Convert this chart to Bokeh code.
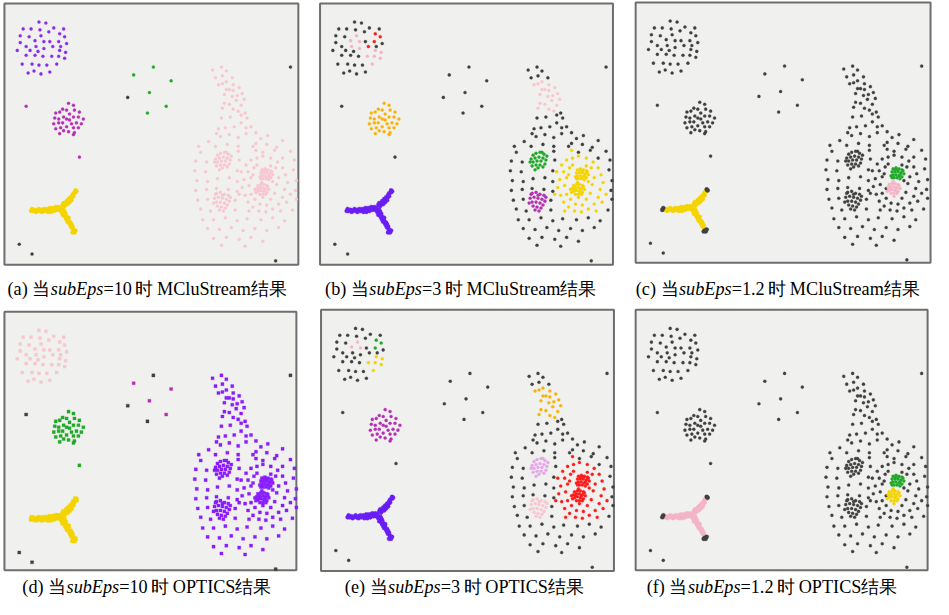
from bokeh.plotting import figure
from bokeh.models import Range1d, ColumnDataSource
from bokeh.core.properties import value
from bokeh.embed import file_html
from bokeh.resources import INLINE

# ---------------- data (local pixel coords inside a panel, origin = panel top-left) -------------
BLOB_A0 = [(35,19),(42,20),(19,26),(27,26),(36,27),(50,25),(60,26),(16,33),(25,34),(45,29),
           (16,40),(46,39),(63,41),(22,44),(57,44),(13,48),(26,48),(34,49),(22,53),(31,53),
           (39,54),(18,62),(28,62),(35,63),(43,63),(24,71),(30,69),(37,72),(46,70)]
BLOB_A1 = [(37,33),(31,38),(40,39)]
BLOB_A2 = [(56,31),(61,34),(55,39)]
BLOB_A3 = [(56,48),(62,50),(48,54),(55,54),(61,56),(53,62)]
BLOB_A4 = [(49,44)]
BLOB_A5 = [(32,44),(40,46)]
BLOB_B = [(65,102),(70,104),(59,108),(63,109),(71,109),(76,111),(52,112),(56,111),(66,113),
          (60,116),(70,116),(75,116),(80,118),(51,117),(55,118),(63,118),(66,119),(55,122),
          (59,122),(68,123),(73,122),(78,123),(50,123),(57,127),(63,126),(70,127),(75,127),
          (60,130),(65,131),(71,132),(56,133),(70,134),(52,128)]
SPARSE = [(151,65),(131,73),(169,79),(147,91),(125,96),(164,105),(145,112)]
NOISE = [(290,65),(15,246),(28,256),(275,263)]
NOISE_B = [(22,105),(76,157)]
Y_ARMS = [(29,212),(31,211),(33,212),(35,210),(36,212),(38,211),(40,210),(41,212),(43,210),
          (45,211),(46,209),(48,211),(49,209),(51,210),(52,208),(54,210),(55,208),(57,209),
          (44,213),(50,212),(32,213),(38,213),(47,213),(53,211),(56,211),
          (59,206),(60,204),(62,205),(63,202),(64,203),(65,200),(66,201),(67,198),(68,199),
          (69,196),(70,197),(70,194),(72,193),(61,207),(66,203),(64,205),(68,201),
          (58,213),(60,214),(59,216),(61,217),(62,219),(63,218),(63,221),(64,223),(65,222),
          (66,225),(67,224),(67,227),(68,229),(69,228),(70,231),(60,211),(62,215),(65,219),
          (68,226),(61,213)]
Y_TIPS = [(28,210),(27,212),(72,191),(73,192),(70,233),(71,234),(72,232),(69,234)]
NECK_TOP = [(220,65),(211,68),(225,69),(221,74),(214,76),(231,76)]
NECK_MID = [(225,80),(221,82),(217,83),(232,83),(225,88),(228,88),(238,86),(232,89),(223,93),
            (241,92),(231,95),(236,94),(243,98),(235,99),(223,102),(228,103),(240,104),
            (221,107),(232,108),(237,110)]
NECK_BOT = [(244,112),(240,114),(229,116),(220,117),(246,117),(240,122),(250,126),(233,126),
            (224,127),(217,128),(245,127),(215,133),(219,136),(228,134),(237,137),(245,133),
            (255,132),(267,135),(260,138),(207,141),(282,140),(197,146),(214,146),(226,144),
            (237,146),(252,146),(255,143),(266,144),(276,147)]
RING = [(199,152),(237,151),(290,151),(262,152),(274,150),(282,158),
        (194,161),(205,162),(238,160),(294,160),
        (193,171),(204,172),(236,171),(293,170),
        (195,181),(206,182),(216,179),(228,178),(236,182),(296,181),
        (194,191),(205,190),(215,189),(227,190),(236,192),(295,191),
        (196,201),(206,200),(234,201),(296,200),
        (199,210),(209,212),(234,211),(292,211),
        (201,221),(212,221),(224,219),(236,222),(246,220),(260,221),(272,219),(284,222),
        (206,230),(218,231),(230,229),(242,232),(254,230),(266,232),(278,229),
        (212,240),(225,239),(238,241),(250,239),(262,243),
        (220,247),(244,248)]
HALO = [(245,165),(250,160),(256,158),(262,156),(270,158),(277,162),(282,168),(240,172),
        (247,172),(253,168),(275,168),(285,175),(243,180),(250,178),(278,178),(287,183),
        (241,188),(248,186),(276,185),(284,190),(244,196),(250,195),(274,194),(282,198),
        (247,203),(254,200),(270,200),(278,205),(252,208),(259,205),(266,206),(272,210),
        (258,212),(265,213),(255,150),(290,195),(238,195),(286,203),(248,212),(280,212),
        (252,175),(254,190),(272,182),(270,166),(256,165)]
CORE_1 = [(216,155),(219,153),(223,152),(227,154),(214,159),(218,158),(222,157),(226,158),
          (229,160),(216,162),(220,161),(224,161),(228,164),(215,166),(219,165),(223,165),
          (226,167),(221,168),(213,162),(225,152),(230,156),(218,170)]
CORE_2 = [(215,194),(219,193),(223,195),(227,196),(213,199),(217,198),(221,199),(225,200),
          (228,202),(215,203),(219,203),(223,204),(226,206),(216,207),(220,208),(224,209),
          (218,211),(222,212),(212,204),(229,198),(214,195),(221,196)]
CORE_3 = [(261,170),(264,169),(267,170),(270,171),(260,173),(263,173),(266,173),(269,174),
          (272,175),(261,176),(264,176),(267,177),(270,178),(262,179),(265,179),(268,180),
          (259,177),(266,171),(263,171),(268,176),(271,172),(260,179)]
CORE_4 = [(257,186),(260,185),(263,185),(266,186),(256,189),(259,188),(262,188),(265,189),
          (268,190),(257,192),(260,191),(263,192),(266,193),(259,195),(262,195),(265,195),
          (261,183),(264,190),(258,190),(267,187),(255,193),(262,198)]

GROUPS = [("A0", BLOB_A0), ("A1", BLOB_A1), ("A2", BLOB_A2), ("A3", BLOB_A3), ("A4", BLOB_A4),
          ("A5", BLOB_A5), ("B", BLOB_B), ("NOISE", NOISE), ("NECK_TOP", NECK_TOP),
          ("NECK_MID", NECK_MID), ("NECK_BOT", NECK_BOT), ("RING", RING), ("HALO", HALO),
          ("C1", CORE_1), ("C2", CORE_2), ("C3", CORE_3), ("C4", CORE_4),
          ("Y", Y_ARMS), ("YT", Y_TIPS)]

K = "#404040"
PURPLE = "#8a2cf0"
MAGENTA = "#b52fb5"
GREEN = "#22a82a"
YELLOW = "#f4d400"
LPINK = "#f7c6d2"
PINK = "#f4b4c8"
RED = "#ff1a1a"
ORANGE = "#f6b40a"
VIOLET = "#6a1ef5"
PLUM = "#e6a6e8"
BIGVIOLET = "#8a1cff"

BIG = ["NECK_TOP", "NECK_MID", "NECK_BOT", "RING", "HALO", "C1", "C2", "C3", "C4"]
BLOBA = ["A0", "A1", "A2", "A3", "A4", "A5"]

def cmap(base, **over):
    d = {g: base for g, _ in GROUPS}
    d.update(over)
    return d

PANEL_COLORS = {
    "a": cmap(K, **{g: PURPLE for g in BLOBA}, B=MAGENTA, Y=YELLOW, YT=YELLOW, **{g: LPINK for g in BIG}),
    "b": cmap(K, A1=PINK, A2=RED, A3=PINK, A4=RED, A5=PINK, B=ORANGE, Y=VIOLET, YT=VIOLET,
              NECK_MID=LPINK, HALO=YELLOW, C1=GREEN, C2=MAGENTA, C3=YELLOW, C4=YELLOW),
    "c": cmap(K, Y=YELLOW, C3=GREEN, C4=PINK),
    "d": cmap(K, **{g: LPINK for g in BLOBA}, B=GREEN, Y=YELLOW, YT=YELLOW, **{g: BIGVIOLET for g in BIG}),
    "e": cmap(K, A1=PINK, A2=GREEN, A3=YELLOW, B=MAGENTA, Y=VIOLET, YT=VIOLET, NECK_MID=ORANGE,
              HALO=RED, C1=PLUM, C2=LPINK, C3=RED, C4=RED),
    "f": cmap(K, Y=PINK, C3=GREEN, C4=YELLOW),
}
SPARSE_COLORS = {"a": [GREEN, GREEN, GREEN, GREEN, K, GREEN, GREEN],
                 "d": [K, MAGENTA, MAGENTA, MAGENTA, K, MAGENTA, K]}
NOISE_B_COLORS = {"a": [MAGENTA, MAGENTA], "d": [K, GREEN]}

CAPTION_LABEL = ["(a)", "(b)", "(c)", "(d)", "(e)", "(f)"]
CAPTION_VALUE = ["=10", "=3", "=1.2", "=10", "=3", "=1.2"]
CAPTION_METHOD = ["MCluStream", "MCluStream", "MCluStream", "OPTICS", "OPTICS", "OPTICS"]

# ---------------- layout ----------------
PANELS = [  # key, left, top, right, bottom, marker
    ("a", 7, 6, 305, 273, "circle"),
    ("b", 327, 6, 624, 273, "circle"),
    ("c", 647, 5, 946, 271, "circle"),
    ("d", 7, 321, 303, 585, "square"),
    ("e", 328, 319, 625, 586, "circle"),
    ("f", 647, 319, 943, 585, "circle"),
]
# caption: left edge of the italic "subEps", baseline
CAPTION_ANCHOR = [(54, 297.5), (377, 297.5), (691, 297.5), (70, 602), (396, 602), (700, 602)]

# Times (Liberation Serif) advance widths, per 1000 em, for spacing the caption pieces
ADV = {"=": 564, "1": 500, "0": 500, "3": 500, "2": 500, ".": 250}
ITALIC_EM = 2.889  # "subEps" in Times italic

W, H = 933, 599
X0, X1 = 3, 949
Y0, Y1 = 3, 615
UX = (X1 - X0) / W
FSN = 18.2
FS = f"{FSN}px"
GAP = 3.5

p = figure(width=W, height=H, x_range=Range1d(X0, X1), y_range=Range1d(Y1, Y0),
           output_backend="svg", toolbar_location=None, x_axis_type=None, y_axis_type=None,
           min_border=0, outline_line_color=None, background_fill_color="white",
           border_fill_color="white")
p.grid.visible = False
font = value("Liberation Serif")

def put(x, y, txt, align="left", style="normal"):
    p.text(x=[x], y=[y], text=[txt], text_align=align, text_baseline="alphabetic",
           text_font=font, text_font_size=FS, text_color="black", text_font_style=style)

for i, (key, l, t, r, b, marker) in enumerate(PANELS):
    p.quad(left=[l], right=[r], top=[t], bottom=[b], fill_color="#f0f1ee",
           line_color="#6e6e6e", line_width=2)
    xs, ys, cs, ss = [], [], [], []
    cols = PANEL_COLORS[key]
    for g, pts in GROUPS:
        for (u, v) in pts:
            xs.append(l + u); ys.append(t + v); cs.append(cols[g])
            ss.append(4.2 if g in ("Y", "YT") else 3.1)
    sc = SPARSE_COLORS.get(key, [K] * len(SPARSE))
    for (u, v), c in zip(SPARSE, sc):
        xs.append(l + u); ys.append(t + v); cs.append(c); ss.append(3.1)
    nc = NOISE_B_COLORS.get(key, [K] * len(NOISE_B))
    for (u, v), c in zip(NOISE_B, nc):
        xs.append(l + u); ys.append(t + v); cs.append(c); ss.append(3.1)
    src = ColumnDataSource(dict(x=xs, y=ys, c=cs, s=ss))
    p.scatter("x", "y", source=src, marker=marker, size="s", fill_color="c",
              line_color="c", line_alpha=0.3, line_width=1)

    x0, base = CAPTION_ANCHOR[i]
    put(x0 - 0.5 * UX, base, CAPTION_LABEL[i] + " 当", align="right")
    put(x0, base, "subEps", style="italic")
    xv = x0 + ITALIC_EM * FSN * UX
    put(xv, base, CAPTION_VALUE[i])
    vw = sum(ADV[ch] for ch in CAPTION_VALUE[i]) / 1000 * FSN
    xs_ = xv + (vw + GAP) * UX
    put(xs_, base, "时")
    put(xs_ + (FSN + GAP) * UX, base, CAPTION_METHOD[i] + "结果")

open("out.html", "w").write(file_html(p, INLINE))
